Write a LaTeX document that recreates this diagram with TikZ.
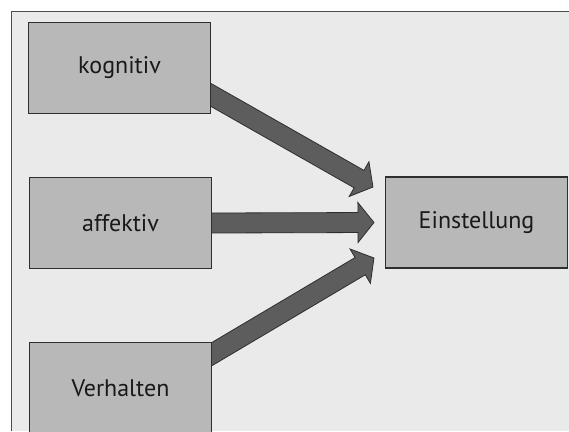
\documentclass[tikz,border=0pt]{standalone}
\usepackage{fontspec}
\setmainfont{PT Sans}
\usetikzlibrary{calc,backgrounds}

\definecolor{panelgray}{HTML}{EAEAEA}
\definecolor{boxgray}{HTML}{B8B8B8}
\definecolor{arrowgray}{HTML}{5D5D5D}
\definecolor{edgegray}{HTML}{2E2E2E}

% broad arrow from edge point #1 to tip #2
\newcommand{\blockarrow}[2]{%
  \coordinate (s) at ($(#1)!-14pt!(#2)$);
  \coordinate (h) at ($(#2)!16pt!(#1)$);
  \filldraw[arrowDecorate]
    ($(s)!10pt!90:(#2)$) -- ($(h)!10pt!90:(#2)$) -- ($(h)!20pt!90:(#2)$)
    -- (#2) -- ($(h)!20pt!-90:(#2)$) -- ($(h)!10pt!-90:(#2)$)
    -- ($(s)!10pt!-90:(#2)$) -- cycle;
}

\begin{document}
\begin{tikzpicture}
[x=1pt,y=-1pt,
  boxDecorate/.style={shape=rectangle,draw=edgegray,fill=boxgray,line width=1.1pt,
    minimum width=182pt,minimum height=91pt,inner sep=0pt,font=\fontsize{24}{28}\selectfont,
    text=black!90},%
  arrowDecorate/.style={fill=arrowgray,draw=edgegray,line width=0.8pt,line join=miter},%
  panelLine/.style={draw=black!70,line width=1pt}]
\useasboundingbox (0,0) rectangle (569,431);
%% boxes
\foreach \nodename/\x/\y/\txt in {
  kog/119.5/68/kognitiv, aff/120.5/223/affektiv,
  ver/120.5/388/Verhalten, ein/476.5/222.5/Einstellung}
{
  \node (\nodename) at (\x,\y) [boxDecorate] {\txt};
}
%% end points of the arrows
\coordinate (e1) at ($(kog.east)+(0,27)$);
\coordinate (e2) at (aff.east);
\coordinate (e3) at ($(ver.east)+(0,-34)$);
\coordinate (t1) at ($(ein.west)+(-12,-35.5)$);
\coordinate (t2) at ($(ein.west)+(-11,0)$);
\coordinate (t3) at ($(ein.west)+(-11,35.5)$);
%% panel and arrows behind the boxes
\begin{scope}[on background layer]
  \fill[panelgray] (11,11) rectangle (569,431);
  \draw[panelLine] (11,431) -- (11,11) -- (569,11);
  \foreach \startnode/\endnode in {e1/t1, e2/t2, e3/t3}
  {
    \blockarrow{\startnode}{\endnode}
  }
\end{scope}
\end{tikzpicture}
\end{document}
